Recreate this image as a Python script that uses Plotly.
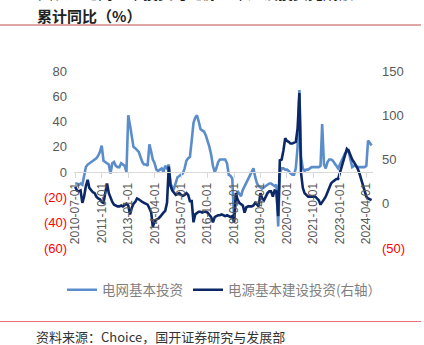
import pandas as pd
import plotly.graph_objects as go

# monthly dates, 2010-07 .. 2024-07
dates = pd.date_range("2010-07-01", "2024-07-01", freq="MS")

# 电网基本投资 累计同比 (%) - left axis
grid = (
    [-9, -9, -10, -9, -10, -3]                                  # 2010 H2
    + [4, 6, 7, 8, 9, 10, 11, 13, 16, 21, 9, 8]                 # 2011
    + [7, 6, -1, 7, 8, 5, 4, 4, 7, 6, 5, 0]                     # 2012
    + [45, 37, 30, 20, 19, 17, 16, 12, 8, 6, 6, 5]              # 2013
    + [22, 16, 10, 7, 2, 1, 2, 3, 0, 5, 3, 6]                   # 2014
    + [-9, -12, -13, -8, -4, -3, -2, -1, 3, 9, 11, 12]          # 2015
    + [25, 39, 43, 45, 40, 34, 33, 32, 29, 25, 20, 14]          # 2016
    + [5, 0, 3, 8, 10, 10, 10, 10, 7, -2, -3, -5]               # 2017
    + [-38, -20, -15, -17, -19, -14, -11, -8, -5, -3, 0, 3]     # 2018
    + [-4, -9, -11, -12, -13, -12, -11, -10, -9, -9, -10, -11]  # 2019
    + [-10, -43, -1, 3, 3, 2, 2, 1, -1, -2, -2, 3]              # 2020
    + [20, 65, 12, 3, 1, 2, 2, 3, 4, 4, 4, 4]                   # 2021
    + [4, 5, 38, 6, 3, 8, 10, 10, 9, 7, 5, 3]                   # 2022
    + [6, 10, 12, 15, 16, 17, 10, 4, 5, 5, 4, 4]                # 2023
    + [4, 4, 4, 5, 25, 23, 21]                                  # 2024
)

# 电源基本建设投资 累计同比 (%) - right axis
power = (
    [19, 15, 14, 15, 1, 8]                                      # 2010 H2
    + [20, 27, 18, 15, 13, 12, 8, 6, 5, 2, 1, 12]               # 2011
    + [23, 12, 7, 2, -1, -2, -3, -3, -2, -3, -1, 0]             # 2012
    + [-2, -12, -5, 0, 2, 6, 5, 3, 2, 1, 0, -1]                 # 2013
    + [-5, -10, -26, -20, -18, -17, -15, -12, -10, -8, 1, 42]   # 2014
    + [20, 15, 12, 10, 11, 12, 10, 9, 10, 12, 10, 3]            # 2015
    + [3, -21, -12, -10, -9, -9, -10, -9, -9, -10, -13, -15]    # 2016
    + [-21, -15, -14, -13, -13, -12, -13, -14, -13, -14, -15, -14]  # 2017
    + [-21, 12, 5, 1, -1, -2, -10, -4, -3, -3, -3, -2]          # 2018
    + [1, -1, -3, 12, 6, 4, 8, 12, 14, 14, 8, 15]               # 2019
    + [14, -14, 49, 50, 60, 74, 71, 70, 68, 68, 69, 70]         # 2020
    + [85, 125, 35, 18, 12, 10, 8, 8, 8, 8, 8, 6]               # 2021
    + [4, -1, 2, 4, 8, 13, 18, 23, 25, 27, 28, 28]              # 2022
    + [35, 42, 50, 57, 62, 60, 55, 50, 47, 44, 40, 35]          # 2023
    + [28, 19, 12, 8, 6, 5, 4]                                  # 2024
)

x_ticks = ["2010-07-01", "2011-10-01", "2013-01-01", "2014-04-01", "2015-07-01", "2016-10-01",
           "2018-01-01", "2019-04-01", "2020-07-01", "2021-10-01", "2023-01-01", "2024-04-01"]
left_vals = [80, 60, 40, 20, 0, -20, -40, -60]
left_text = ["80", "60", "40", "20", "0", "(20)", "(40)", "(60)"]
right_vals = [150, 100, 50, 0, -50]
right_text = ["150", "100", "50", "0", "(50)"]

GRAY = "#595959"
RED = "#FF0000"


def colored(texts, vals):
    out = []
    for t, v in zip(texts, vals):
        if v < 0:
            out.append(f'<span style="color:{RED}">{t}</span>')
        else:
            out.append(t)
    return out


W, H = 424, 345
L, R, T, B = 74, 51, 71, 97
pw, ph = W - L - R, H - T - B


def px(x):
    return (x - L) / pw


def py(y):
    return (H - B - y) / ph


fig = go.Figure()
fig.add_trace(go.Scatter(x=dates, y=grid, mode="lines", name="电网基本投资",
                         line=dict(color="#5B8DCB", width=2.6), yaxis="y"))
fig.add_trace(go.Scatter(x=dates, y=power, mode="lines", name="电源基本建设投资(右轴）",
                         line=dict(color="#0C2867", width=2.6), yaxis="y2"))

fig.update_layout(
    width=W, height=H,
    margin=dict(l=L, r=R, t=T, b=B),
    paper_bgcolor="white", plot_bgcolor="white",
    font=dict(family="Liberation Sans, Noto Sans CJK SC", color=GRAY, size=13),
    showlegend=True,
    legend=dict(orientation="h", x=px(62), xanchor="left", y=py(290), yanchor="middle",
                font=dict(family="Noto Sans CJK SC", size=13.5, color="#7F7F7F"),
                itemwidth=30, tracegroupgap=0, bgcolor="rgba(0,0,0,0)"),
    xaxis=dict(
        type="date",
        range=["2010-06-10", "2024-07-25"],
        anchor="free", position=py(172),
        showline=True, linecolor="#D9D9D9", linewidth=1,
        showgrid=False, zeroline=False,
        tickmode="array", tickvals=x_ticks, ticktext=x_ticks,
        tickangle=-90, ticks="outside", ticklen=5, tickcolor="#D9D9D9",
        tickfont=dict(size=12, color=GRAY, family="Liberation Sans"),
    ),
    yaxis=dict(
        range=[-60, 80], showgrid=False, zeroline=False, showline=False,
        tickmode="array", tickvals=left_vals, ticktext=colored(left_text, left_vals),
        tickfont=dict(size=13, color=GRAY), ticklabelstandoff=6,
    ),
    yaxis2=dict(
        range=[-50, 150], overlaying="y", side="right", showgrid=False, zeroline=False,
        showline=False,
        tickmode="array", tickvals=right_vals, ticktext=colored(right_text, right_vals),
        tickfont=dict(size=13, color=GRAY), ticklabelstandoff=8,
    ),
)

# header / footer lines
fig.add_shape(type="line", xref="paper", yref="paper", x0=px(0), x1=px(421),
              y0=py(25), y1=py(25), line=dict(color="#C0504D", width=1.2))
fig.add_shape(type="line", xref="paper", yref="paper", x0=px(0), x1=px(421),
              y0=py(321.5), y1=py(321.5), line=dict(color="#E8707A", width=1.2))

# cut-off first title line and second line
fig.add_annotation(xref="paper", yref="paper", x=px(36), y=py(-8), xanchor="left", yanchor="middle",
                   text="图表：电网基本投资与电源基本建设投资完成额", showarrow=False,
                   font=dict(family="Noto Sans CJK SC", size=15, color="#222222"))
fig.add_annotation(xref="paper", yref="paper", x=px(35), y=py(15), xanchor="left", yanchor="middle",
                   text="<b>累计同比（%）</b>", showarrow=False,
                   font=dict(family="Noto Sans CJK SC", size=15, color="#222222"))
fig.add_annotation(xref="paper", yref="paper", x=px(34), y=py(336), xanchor="left", yanchor="middle",
                   text="资料来源：Choice，国开证券研究与发展部", showarrow=False,
                   font=dict(family="Noto Sans CJK SC", size=13, color="#333333"))

fig.write_html("out.html")
